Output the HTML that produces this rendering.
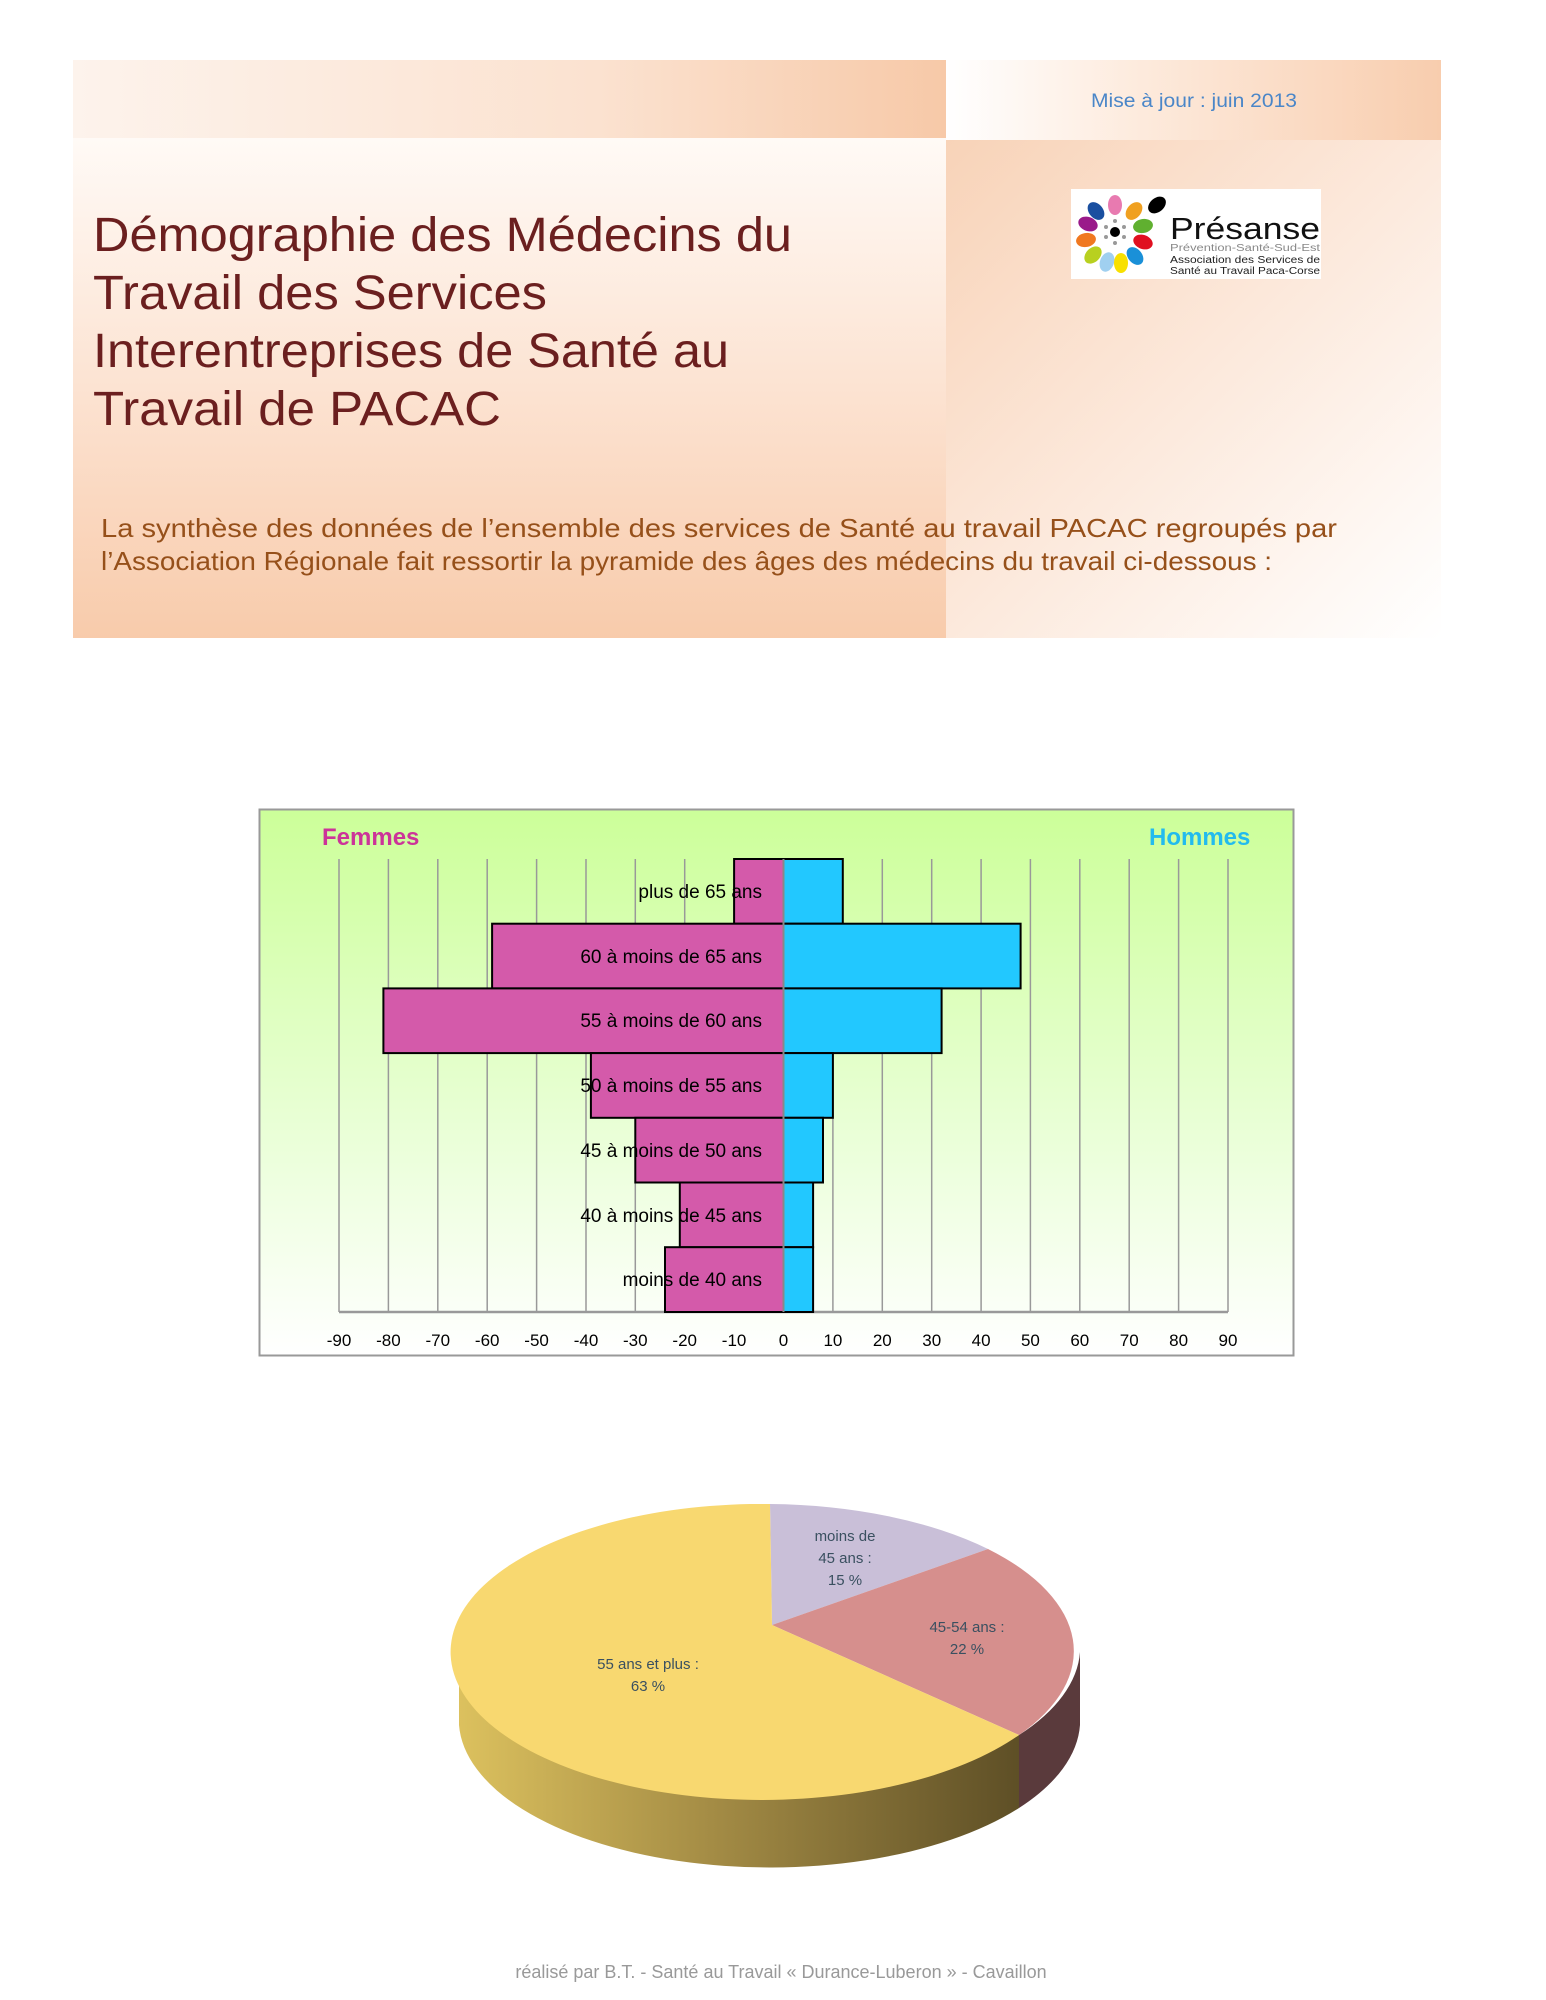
<!DOCTYPE html>
<html><head><meta charset="utf-8"><style>
html,body{margin:0;padding:0;background:#fff;}
svg{display:block;}
</style></head><body>
<svg width="1546" height="2000" viewBox="0 0 1546 2000" xmlns="http://www.w3.org/2000/svg" font-family="Liberation Sans, sans-serif">
<defs>
<linearGradient id="tl" x1="0" y1="0" x2="1" y2="0"><stop offset="0" stop-color="#fdf3ec"/><stop offset="0.6" stop-color="#fbe2d0"/><stop offset="1" stop-color="#f7c9a8"/></linearGradient>
<linearGradient id="lb" x1="0" y1="0" x2="0" y2="1"><stop offset="0" stop-color="#fffaf6"/><stop offset="0.5" stop-color="#fce3d2"/><stop offset="1" stop-color="#f8cbab"/></linearGradient>
<linearGradient id="tr" x1="0" y1="0" x2="1" y2="0"><stop offset="0" stop-color="#fff"/><stop offset="0.4" stop-color="#fdeadc"/><stop offset="1" stop-color="#f8cdae"/></linearGradient>
<linearGradient id="rb" x1="0" y1="0" x2="1" y2="1"><stop offset="0" stop-color="#f8d3b8"/><stop offset="0.5" stop-color="#fce9dc"/><stop offset="1" stop-color="#ffffff"/></linearGradient>
<linearGradient id="cb" x1="0" y1="0" x2="0" y2="1"><stop offset="0" stop-color="#ccff99"/><stop offset="0.6" stop-color="#eaffd8"/><stop offset="1" stop-color="#ffffff"/></linearGradient>
<linearGradient id="side" x1="0" y1="0" x2="1" y2="0"><stop offset="0" stop-color="#dcc15e"/><stop offset="0.45" stop-color="#a48c45"/><stop offset="1" stop-color="#5e4f26"/></linearGradient>
</defs>
<rect x="73" y="60" width="873" height="78" fill="url(#tl)"/>
<rect x="73" y="138" width="873" height="500" fill="url(#lb)"/>
<rect x="946" y="60" width="495" height="80" fill="url(#tr)"/>
<rect x="946" y="140" width="495" height="498" fill="url(#rb)"/>
<text x="1091" y="107" font-size="19" fill="#4a86c8" textLength="206" lengthAdjust="spacingAndGlyphs">Mise à jour : juin 2013</text>
<g font-size="48" fill="#6b1f1f">
<text x="93" y="251" textLength="699" lengthAdjust="spacingAndGlyphs">Démographie des Médecins du</text>
<text x="93" y="309" textLength="454" lengthAdjust="spacingAndGlyphs">Travail des Services</text>
<text x="93" y="367" textLength="636" lengthAdjust="spacingAndGlyphs">Interentreprises de Santé au</text>
<text x="93" y="425" textLength="408" lengthAdjust="spacingAndGlyphs">Travail de PACAC</text>
</g>
<g font-size="26" fill="#96501a">
<text x="101" y="537" textLength="1236" lengthAdjust="spacingAndGlyphs">La synthèse des données de l’ensemble des services de Santé au travail PACAC regroupés par</text>
<text x="101" y="570" textLength="1171" lengthAdjust="spacingAndGlyphs">l’Association Régionale fait ressortir la pyramide des âges des médecins du travail ci-dessous :</text>
</g>
<rect x="1071" y="189" width="250" height="90" fill="#fff"/>
<g transform="translate(1115,232)">
<ellipse cx="0" cy="-27" rx="7" ry="10" fill="#e87ab0"/>
<ellipse cx="-19" cy="-21" rx="7" ry="10" fill="#1a4fa0" transform="rotate(-40 -19 -21)"/>
<ellipse cx="19" cy="-21" rx="7" ry="10" fill="#f0a020" transform="rotate(40 19 -21)"/>
<ellipse cx="-27" cy="-8" rx="7" ry="10" fill="#9a1a8a" transform="rotate(-70 -27 -8)"/>
<ellipse cx="-29" cy="8" rx="7" ry="10" fill="#f07820" transform="rotate(-100 -29 8)"/>
<ellipse cx="-22" cy="23" rx="7" ry="10" fill="#b8d020" transform="rotate(-135 -22 23)"/>
<ellipse cx="-8" cy="30" rx="7" ry="10" fill="#a0d0f0" transform="rotate(-160 -8 30)"/>
<ellipse cx="6" cy="31" rx="7" ry="10" fill="#f8e000"/>
<ellipse cx="20" cy="24" rx="7" ry="10" fill="#1a90d8" transform="rotate(140 20 24)"/>
<ellipse cx="28" cy="10" rx="7" ry="10" fill="#e01020" transform="rotate(110 28 10)"/>
<ellipse cx="28" cy="-6" rx="7" ry="10" fill="#60b030" transform="rotate(80 28 -6)"/>
<ellipse cx="42" cy="-27" rx="7" ry="10" fill="#000" transform="rotate(50 42 -27)"/>
<circle cx="0" cy="0" r="5" fill="#000"/>
<g fill="#999"><circle cx="0" cy="-11" r="2"/><circle cx="0" cy="11" r="2"/><circle cx="-9" cy="-5" r="2"/><circle cx="9" cy="-5" r="2"/><circle cx="-9" cy="5" r="2"/><circle cx="9" cy="5" r="2"/></g>
</g>
<text x="1170" y="239" font-size="31" fill="#111" textLength="150" lengthAdjust="spacingAndGlyphs">Présanse</text>
<text x="1170" y="251" font-size="10" fill="#888" textLength="150" lengthAdjust="spacingAndGlyphs">Prévention-Santé-Sud-Est</text>
<text x="1170" y="263" font-size="10" fill="#222" textLength="150" lengthAdjust="spacingAndGlyphs">Association des Services de</text>
<text x="1170" y="274" font-size="10" fill="#222" textLength="150" lengthAdjust="spacingAndGlyphs">Santé au Travail Paca-Corse</text>
<rect x="259.5" y="809.5" width="1034" height="546" fill="url(#cb)" stroke="#999" stroke-width="2"/>
<text x="322" y="845" font-size="24" font-weight="bold" fill="#cc3399">Femmes</text>
<text x="1149" y="845" font-size="24" font-weight="bold" fill="#22bbee">Hommes</text>
<g stroke="#999" stroke-width="1.5">
<line x1="339" y1="859" x2="339" y2="1312"/><line x1="388.4" y1="859" x2="388.4" y2="1312"/><line x1="437.8" y1="859" x2="437.8" y2="1312"/><line x1="487.2" y1="859" x2="487.2" y2="1312"/><line x1="536.6" y1="859" x2="536.6" y2="1312"/><line x1="586" y1="859" x2="586" y2="1312"/><line x1="635.3" y1="859" x2="635.3" y2="1312"/><line x1="684.7" y1="859" x2="684.7" y2="1312"/><line x1="734.1" y1="859" x2="734.1" y2="1312"/><line x1="832.9" y1="859" x2="832.9" y2="1312"/><line x1="882.3" y1="859" x2="882.3" y2="1312"/><line x1="931.7" y1="859" x2="931.7" y2="1312"/><line x1="981.1" y1="859" x2="981.1" y2="1312"/><line x1="1030.4" y1="859" x2="1030.4" y2="1312"/><line x1="1079.8" y1="859" x2="1079.8" y2="1312"/><line x1="1129.2" y1="859" x2="1129.2" y2="1312"/><line x1="1178.6" y1="859" x2="1178.6" y2="1312"/><line x1="1228" y1="859" x2="1228" y2="1312"/>
<line x1="339" y1="1312" x2="1228" y2="1312" stroke-width="2.5"/>
</g>
<g stroke="#000" stroke-width="2">
<rect x="734.1" y="859" width="49.4" height="64.7" fill="#d45aaa"/>
<rect x="492.1" y="923.7" width="291.4" height="64.7" fill="#d45aaa"/>
<rect x="383.4" y="988.4" width="400.1" height="64.7" fill="#d45aaa"/>
<rect x="590.9" y="1053.1" width="192.6" height="64.7" fill="#d45aaa"/>
<rect x="635.3" y="1117.8" width="148.2" height="64.7" fill="#d45aaa"/>
<rect x="679.8" y="1182.5" width="103.7" height="64.7" fill="#d45aaa"/>
<rect x="665" y="1247.2" width="118.5" height="64.8" fill="#d45aaa"/>
<rect x="783.5" y="859" width="59.3" height="64.7" fill="#22c8ff"/>
<rect x="783.5" y="923.7" width="237.1" height="64.7" fill="#22c8ff"/>
<rect x="783.5" y="988.4" width="158.1" height="64.7" fill="#22c8ff"/>
<rect x="783.5" y="1053.1" width="49.4" height="64.7" fill="#22c8ff"/>
<rect x="783.5" y="1117.8" width="39.5" height="64.7" fill="#22c8ff"/>
<rect x="783.5" y="1182.5" width="29.6" height="64.7" fill="#22c8ff"/>
<rect x="783.5" y="1247.2" width="29.6" height="64.8" fill="#22c8ff"/>
</g>
<line x1="783.5" y1="859" x2="783.5" y2="1312" stroke="#888" stroke-width="2"/>
<g font-size="19" fill="#000" text-anchor="end">
<text x="762" y="898">plus de 65 ans</text>
<text x="762" y="963">60 à moins de 65 ans</text>
<text x="762" y="1027">55 à moins de 60 ans</text>
<text x="762" y="1092">50 à moins de 55 ans</text>
<text x="762" y="1157">45 à moins de 50 ans</text>
<text x="762" y="1222">40 à moins de 45 ans</text>
<text x="762" y="1286">moins de 40 ans</text>
</g>
<g font-size="17" fill="#000" text-anchor="middle">
<text x="339" y="1346">-90</text><text x="388.4" y="1346">-80</text><text x="437.8" y="1346">-70</text><text x="487.2" y="1346">-60</text><text x="536.6" y="1346">-50</text><text x="586" y="1346">-40</text><text x="635.3" y="1346">-30</text><text x="684.7" y="1346">-20</text><text x="734.1" y="1346">-10</text><text x="783.5" y="1346">0</text><text x="832.9" y="1346">10</text><text x="882.3" y="1346">20</text><text x="931.7" y="1346">30</text><text x="981.1" y="1346">40</text><text x="1030.4" y="1346">50</text><text x="1079.8" y="1346">60</text><text x="1129.2" y="1346">70</text><text x="1178.6" y="1346">80</text><text x="1228" y="1346">90</text>
</g>
<path d="M459,1652 A311,148 0 0 0 1019,1735 L1019,1808 A311,148 0 0 1 459,1725 Z" fill="url(#side)"/>
<path d="M1019,1735 A311,148 0 0 0 1080,1652 L1080,1725 A311,148 0 0 1 1019,1808 Z" fill="#5a3a3c"/>
<path d="M772,1625 L770,1504 A311,148 0 0 1 988,1549 Z" fill="#c9bfd8"/>
<path d="M772,1625 L988,1549 A311,148 0 0 1 1019,1735 Z" fill="#d68f8d"/>
<path d="M772,1625 L1019,1735 A311,148 0 1 1 770,1504 Z" fill="#f8d870"/>
<g font-size="15" fill="#3a5060" text-anchor="middle">
<text x="845" y="1541">moins de</text><text x="845" y="1563">45 ans :</text><text x="845" y="1585">15 %</text>
<text x="967" y="1632">45-54 ans :</text><text x="967" y="1654">22 %</text>
<text x="648" y="1669">55 ans et plus :</text><text x="648" y="1691">63 %</text>
</g>
<text x="781" y="1978" font-size="18" fill="#999" text-anchor="middle">réalisé par B.T. - Santé au Travail « Durance-Luberon » - Cavaillon</text>
</svg>
</body></html>
